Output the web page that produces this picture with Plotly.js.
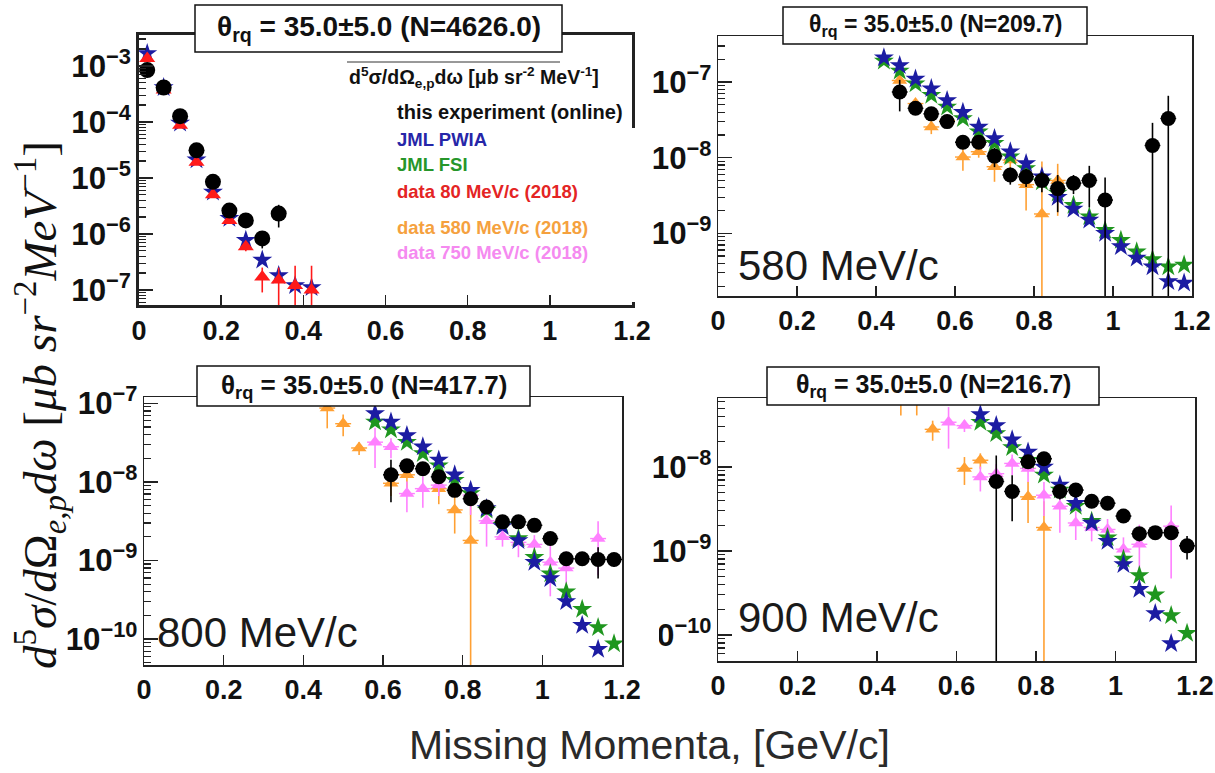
<!DOCTYPE html>
<html>
<head>
<meta charset="utf-8">
<script src="https://cdn.plot.ly/plotly-3.0.1.min.js"></script>
<style>
  html, body { margin: 0; padding: 0; background: #ffffff; }
  #chart { width: 1215px; height: 773px; }
</style>
</head>
<body>
<div id="chart"></div>
<script>
// Missing-momentum bins [GeV/c] and cross sections [µb sr^-2 MeV^-1]

// ---- panel 1: 80 MeV/c setting
const p1_x_exp  = [0.02, 0.06, 0.10, 0.14, 0.18, 0.22, 0.26, 0.30, 0.34];
const p1_exp    = [8.4e-4, 4.1e-4, 1.26e-4, 3.1e-5, 8.5e-6, 2.6e-6, 1.74e-6, 8.3e-7, 2.3e-6];
const p1_exp_e  = [3e-5, 2e-5, 8e-6, 2e-6, 8e-7, 3e-7, 2e-7, 2.8e-7, 1.0e-6];
const p1_x_th   = [0.02, 0.06, 0.10, 0.14, 0.18, 0.22, 0.26, 0.30, 0.34, 0.38, 0.42];
const p1_pwia   = [1.66e-3, 4.1e-4, 9.5e-5, 2.1e-5, 5.6e-6, 1.9e-6, 7.7e-7, 3.4e-7, 1.8e-7, 1.2e-7, 1.1e-7];
const p1_x_d80  = [0.02, 0.06, 0.10, 0.14, 0.18, 0.22, 0.26, 0.30, 0.34, 0.38, 0.42];
const p1_d80    = [1.35e-3, 3.7e-4, 8.7e-5, 1.9e-5, 5.0e-6, 1.74e-6, 5.9e-7, 1.7e-7, 1.5e-7, 1.2e-7, 1.0e-7];
const p1_d80_e  = [5e-5, 2e-5, 5e-6, 1.5e-6, 5e-7, 2e-7, 1e-7, 8e-8, 1.0e-7, 1.5e-7, 1.7e-7];

// ---- panel 2: 580 MeV/c setting
const p2_x_th   = [0.42, 0.46, 0.50, 0.54, 0.58, 0.62, 0.66, 0.70, 0.74, 0.78, 0.82, 0.86, 0.90, 0.94, 0.98, 1.02, 1.06, 1.10, 1.14, 1.18];
const p2_pwia   = [2.1e-7, 1.66e-7, 1.1e-7, 8.2e-8, 5.7e-8, 4.0e-8, 2.55e-8, 1.8e-8, 1.2e-8, 8.4e-9, 5.6e-9, 3.0e-9, 2.1e-9, 1.5e-9, 1.0e-9, 6.7e-10, 4.7e-10, 3.6e-10, 2.3e-10, 2.2e-10];
const p2_fsi    = [1.9e-7, 1.4e-7, 9.5e-8, 6.7e-8, 4.7e-8, 3.3e-8, 2.2e-8, 1.55e-8, 1.03e-8, 7.2e-9, 4.8e-9, 3.4e-9, 2.35e-9, 1.66e-9, 1.1e-9, 8.1e-10, 5.7e-10, 4.5e-10, 3.6e-10, 3.8e-10];
const p2_x_exp  = [0.46, 0.50, 0.54, 0.58, 0.62, 0.66, 0.70, 0.74, 0.78, 0.82, 0.86, 0.90, 0.94, 0.98, 1.10, 1.14];
const p2_exp    = [7.4e-8, 4.5e-8, 3.8e-8, 3.0e-8, 1.6e-8, 1.6e-8, 1.05e-8, 5.9e-9, 5.6e-9, 5.0e-9, 3.9e-9, 4.6e-9, 5.0e-9, 2.75e-9, 1.45e-8, 3.3e-8];
const p2_exp_e  = [3.3e-8, 5e-9, 5e-9, 4e-9, 3e-9, 3e-9, 3e-9, 1.5e-9, 1.5e-9, 1.5e-9, 2e-9, 1.3e-9, 2.8e-9, 2.7e-9, 1.44e-8, 3.29e-8];
const p2_x_d580 = [0.46, 0.50, 0.54, 0.58, 0.62, 0.66, 0.70, 0.74, 0.78, 0.82, 0.86];
const p2_d580   = [1.05e-7, 5.2e-8, 2.55e-8, 3.1e-8, 1.02e-8, 1.2e-8, 7.6e-9, 9.3e-9, 4.4e-9, 1.8e-9, 5.0e-9];
const p2_d580_e = [2e-8, 8e-9, 5e-9, 5e-9, 3.5e-9, 2e-9, 2.8e-9, 2e-9, 2.4e-9, 7.1e-9, 3.3e-9];

// ---- panel 3: 800 MeV/c setting
const p3_x_pwia = [0.58, 0.62, 0.66, 0.70, 0.74, 0.78, 0.82, 0.86, 0.90, 0.94, 0.98, 1.02, 1.06, 1.10, 1.14];
const p3_pwia   = [7.4e-8, 5.8e-8, 3.9e-8, 2.8e-8, 1.9e-8, 1.23e-8, 7.8e-9, 4.6e-9, 2.7e-9, 1.8e-9, 9.5e-10, 5.9e-10, 3.0e-10, 1.5e-10, 7.4e-11];
const p3_x_fsi  = [0.58, 0.62, 0.66, 0.70, 0.74, 0.78, 0.82, 0.86, 0.90, 0.94, 0.98, 1.02, 1.06, 1.10, 1.14, 1.18];
const p3_fsi    = [5.8e-8, 4.6e-8, 3.2e-8, 2.3e-8, 1.6e-8, 1.05e-8, 7.1e-9, 4.4e-9, 2.8e-9, 1.9e-9, 1.1e-9, 6.8e-10, 4.0e-10, 2.4e-10, 1.4e-10, 8.7e-11];
const p3_x_exp  = [0.62, 0.66, 0.70, 0.74, 0.78, 0.82, 0.86, 0.90, 0.94, 0.98, 1.02, 1.06, 1.10, 1.14, 1.18];
const p3_exp    = [1.23e-8, 1.6e-8, 1.47e-8, 1.16e-8, 7.8e-9, 6.1e-9, 4.8e-9, 3.1e-9, 3.1e-9, 2.8e-9, 1.9e-9, 1.05e-9, 1.05e-9, 1.03e-9, 1.03e-9];
const p3_exp_e  = [6.8e-9, 2e-9, 2e-9, 1.5e-9, 1e-9, 1e-9, 8e-10, 4e-10, 4e-10, 4e-10, 3e-10, 2e-10, 2e-10, 4.4e-10, 2e-10];
const p3_x_d580 = [0.46, 0.50, 0.54, 0.62, 0.66, 0.74, 0.78, 0.82];
const p3_d580   = [8.7e-8, 5.5e-8, 2.7e-8, 9.6e-9, 1.23e-8, 8.2e-9, 4.4e-9, 1.8e-9];
const p3_d580_e = [3.9e-8, 1.7e-8, 5e-9, 3e-9, 4e-9, 3e-9, 2.2e-9, 5.3e-9];
const p3_x_d750 = [0.58, 0.62, 0.66, 0.70, 0.74, 0.82, 0.86, 0.90, 0.94, 0.98, 1.02, 1.06, 1.14];
const p3_d750   = [3.2e-8, 2.8e-8, 7.1e-9, 8.2e-9, 9.1e-9, 6.8e-9, 3.2e-9, 2.0e-9, 1.7e-9, 1.6e-9, 9.5e-10, 8e-10, 1.9e-9];
const p3_d750_e = [1.7e-8, 8e-9, 3e-9, 3.5e-9, 2.5e-9, 3e-9, 1.7e-9, 5e-10, 6e-10, 5e-10, 6e-10, 5e-10, 1.25e-9];

// ---- panel 4: 900 MeV/c setting
const p4_x_pwia = [0.66, 0.70, 0.74, 0.78, 0.82, 0.86, 0.90, 0.94, 0.98, 1.02, 1.06, 1.10, 1.14];
const p4_pwia   = [4.2e-8, 3.1e-8, 2.1e-8, 1.5e-8, 1.0e-8, 6.1e-9, 3.7e-9, 2.15e-9, 1.3e-9, 6.9e-10, 3.5e-10, 1.8e-10, 7.9e-11];
const p4_x_fsi  = [0.66, 0.70, 0.74, 0.78, 0.82, 0.86, 0.90, 0.94, 0.98, 1.02, 1.06, 1.10, 1.14, 1.18];
const p4_fsi    = [3.4e-8, 2.5e-8, 1.7e-8, 1.2e-8, 8.0e-9, 5.3e-9, 3.4e-9, 2.25e-9, 1.44e-9, 8e-10, 5.1e-10, 3.0e-10, 1.7e-10, 1.05e-10];
const p4_x_exp  = [0.70, 0.74, 0.78, 0.82, 0.86, 0.90, 0.94, 0.98, 1.02, 1.06, 1.10, 1.14, 1.18];
const p4_exp    = [6.7e-9, 5.1e-9, 1.15e-8, 1.25e-8, 5.1e-9, 5.3e-9, 3.9e-9, 3.7e-9, 2.6e-9, 1.6e-9, 1.65e-9, 1.65e-9, 1.15e-9];
const p4_exp_e  = [7e-9, 2.85e-9, 2e-9, 2e-9, 1e-9, 1e-9, 6e-10, 5e-10, 4e-10, 3e-10, 3e-10, 3e-10, 3.6e-10];
const p4_x_d580 = [0.46, 0.50, 0.54, 0.62, 0.66, 0.78, 0.82];
const p4_d580   = [7.5e-8, 7.5e-8, 2.8e-8, 9.6e-9, 1.2e-8, 4.4e-9, 1.9e-9];
const p4_d580_e = [3.4e-8, 3.4e-8, 7.5e-9, 3.5e-9, 2.5e-9, 2.25e-9, 2e-9];
const p4_x_d750 = [0.58, 0.62, 0.66, 0.70, 0.74, 0.78, 0.82, 0.86, 0.90, 0.94, 0.98, 1.02, 1.06, 1.14];
const p4_d750   = [3.4e-8, 3.1e-8, 7.6e-9, 8.3e-9, 1.1e-8, 9.6e-9, 4.6e-9, 3.4e-9, 2.15e-9, 1.9e-9, 1.8e-9, 1.05e-9, 1.2e-9, 1.97e-9];
const p4_d750_e = [1.75e-8, 5e-9, 2.5e-9, 2.5e-9, 3e-9, 3e-9, 2e-9, 1.75e-9, 8e-10, 6e-10, 6e-10, 4e-10, 8.5e-10, 1.5e-9];

// ---- text
const panelTitles = ['4626.0', '209.7', '417.7', '216.7'];
const panelLabels = ['580 MeV/c', '800 MeV/c', '900 MeV/c'];
const legendHeader = 'd<sup>5</sup>σ/dΩ<sub>e,p</sub>dω [μb sr<sup>-2</sup> MeV<sup>-1</sup>]';
const legendEntries = ['this experiment (online)', 'JML PWIA', 'JML FSI', 'data 80 MeV/c (2018)', 'data 580 MeV/c (2018)', 'data 750 MeV/c (2018)'];

// ---- drawing
const W = 1215, H = 773;
const fx = p => p / W;
const fy = p => 1 - p / H;

const STYLE = {
  exp:  {symbol: 'circle',      color: '#000000', size: 15},
  pwia: {symbol: 'star',        color: '#1c1ca2', size: 15},
  fsi:  {symbol: 'star',        color: '#1f961f', size: 15},
  d80:  {symbol: 'triangle-up', color: '#ff1a1a', size: 14},
  d580: {symbol: 'triangle-up', color: '#ffa033', size: 13},
  d750: {symbol: 'triangle-up', color: '#ff80ff', size: 13}
};

function series(n, key, x, y, err, withXerr) {
  const s = STYLE[key];
  const t = {
    type: 'scatter', mode: 'markers', showlegend: false, hoverinfo: 'skip',
    xaxis: n === 1 ? 'x' : 'x' + n, yaxis: n === 1 ? 'y' : 'y' + n,
    x: x, y: y,
    marker: {symbol: s.symbol, color: s.color, size: n === 1 && key === 'exp' ? 16 : s.size, line: {width: 0}}
  };
  if (err) t.error_y = {type: 'data', array: err, visible: true, color: s.color, thickness: 1.6, width: 0};
  if (withXerr) t.error_x = {type: 'constant', value: 0.02, visible: true, color: s.color, thickness: 1.4, width: 0};
  return t;
}

const data = [
  series(1, 'pwia', p1_x_th, p1_pwia),
  series(1, 'd80', p1_x_d80, p1_d80, p1_d80_e),
  series(1, 'exp', p1_x_exp, p1_exp, p1_exp_e),

  series(2, 'd580', p2_x_d580, p2_d580, p2_d580_e, true),
  series(2, 'fsi', p2_x_th, p2_fsi),
  series(2, 'pwia', p2_x_th, p2_pwia),
  series(2, 'exp', p2_x_exp, p2_exp, p2_exp_e, true),

  series(3, 'd580', p3_x_d580, p3_d580, p3_d580_e, true),
  series(3, 'd750', p3_x_d750, p3_d750, p3_d750_e, true),
  series(3, 'fsi', p3_x_fsi, p3_fsi),
  series(3, 'pwia', p3_x_pwia, p3_pwia),
  series(3, 'exp', p3_x_exp, p3_exp, p3_exp_e, true),

  series(4, 'd580', p4_x_d580, p4_d580, p4_d580_e, true),
  series(4, 'd750', p4_x_d750, p4_d750, p4_d750_e, true),
  series(4, 'fsi', p4_x_fsi, p4_fsi),
  series(4, 'pwia', p4_x_pwia, p4_pwia),
  series(4, 'exp', p4_x_exp, p4_exp, p4_exp_e, true)
];

const SANS = 'Liberation Sans, Arial, sans-serif';

// minor tick positions 2..9 x 10^n across a log range
function minorVals(range) {
  const out = [];
  for (let n = Math.floor(range[0]); n <= Math.ceil(range[1]); n++) {
    for (let k = 2; k <= 9; k++) out.push(k * Math.pow(10, n));
  }
  return out;
}

function xAxis(left, right, anchor, lw) {
  return {
    domain: [fx(left), fx(right)], anchor: anchor, range: [0, 1.2], tick0: 0, dtick: 0.2,
    ticks: 'inside', ticklen: 10, tickwidth: 1.5, tickcolor: '#222222',
    showline: true, mirror: true, linecolor: '#222222', linewidth: lw,
    showgrid: false, zeroline: false, fixedrange: true,
    tickfont: {family: SANS, size: 27, weight: 'bold', color: '#111111'}
  };
}
function yAxis(top, bottom, anchor, range, lw) {
  return {
    type: 'log', domain: [fy(bottom), fy(top)], anchor: anchor, range: range, dtick: 1,
    exponentformat: 'power', ticks: 'inside', ticklen: 14, tickwidth: 1.5, tickcolor: '#222222',
    showline: true, mirror: true, linecolor: '#222222', linewidth: lw,
    showgrid: false, zeroline: false, fixedrange: true,
    tickfont: {family: SANS, size: 25, weight: 'bold', color: '#111111'}
  };
}
// companion axis carrying only the short log-decade ticks
function yMinor(base, anchor, range) {
  return {
    type: 'log', overlaying: base, anchor: anchor, side: 'left', range: range,
    tickmode: 'array', tickvals: minorVals(range), ticks: 'inside', ticklen: 7,
    tickwidth: 1.2, tickcolor: '#222222', showticklabels: false,
    showline: false, showgrid: false, zeroline: false, fixedrange: true
  };
}

const R1 = [-7.27, -2.45], R2 = [-9.83, -6.39], R3 = [-10.33, -6.92], R4 = [-10.31, -7.18];

// empty carriers so the companion axes get drawn
['x', 'x2', 'x3', 'x4'].forEach((xa, i) => {
  data.push({type: 'scatter', mode: 'markers', x: [], y: [], xaxis: xa, yaxis: 'y' + (i + 5),
             showlegend: false, hoverinfo: 'skip'});
});

// title boxes: [left, right, top, bottom] in pixels, font size
const boxes = [
  [195, 562, 5, 52, 28],
  [783, 1087, 7, 44, 23],
  [197, 530, 366, 406, 26],
  [767, 1099, 367, 405, 25]
];

const shapes = [];
const annotations = [];

boxes.forEach((b, i) => {
  shapes.push({type: 'rect', xref: 'paper', yref: 'paper', layer: 'above',
    x0: fx(b[0]), x1: fx(b[1]), y0: fy(b[3]), y1: fy(b[2]),
    fillcolor: '#ffffff', line: {color: '#111111', width: 1.5}});
  annotations.push({xref: 'paper', yref: 'paper', x: fx((b[0] + b[1]) / 2), y: fy((b[2] + b[3]) / 2),
    xanchor: 'center', yanchor: 'middle', showarrow: false,
    text: 'θ<sub>rq</sub> = 35.0±5.0 (N=' + panelTitles[i] + ')',
    font: {family: SANS, size: b[4], weight: 'bold', color: '#111111'}});
});

// gap in the right frame of the first panel next to the legend
shapes.push({type: 'rect', xref: 'paper', yref: 'paper', layer: 'above',
  x0: fx(627), x1: fx(638), y0: fy(302), y1: fy(128), fillcolor: '#ffffff', line: {width: 0}});
// hidden leading digit of the lowest label in the last panel
shapes.push({type: 'rect', xref: 'paper', yref: 'paper', layer: 'above',
  x0: fx(634), x1: fx(659), y0: fy(652), y1: fy(612), fillcolor: '#ffffff', line: {width: 0}});

// legend of the first panel
shapes.push({type: 'line', xref: 'paper', yref: 'paper', layer: 'above',
  x0: fx(347), x1: fx(560), y0: fy(62), y1: fy(62), line: {color: '#333333', width: 1}});
annotations.push({xref: 'paper', yref: 'paper', x: fx(347), y: fy(77), xanchor: 'left', yanchor: 'middle',
  showarrow: false, text: legendHeader,
  font: {family: SANS, size: 19.5, weight: 'bold', color: '#111111'}});
const legendColors = ['#111111', '#2626a8', '#26962a', '#e42424', '#f5a13e', '#f58af0'];
const legendY = [112, 140, 165, 192, 227, 253];
legendEntries.forEach((t, i) => {
  annotations.push({xref: 'paper', yref: 'paper', x: fx(395), y: fy(legendY[i]), xanchor: 'left', yanchor: 'middle',
    showarrow: false, text: t,
    font: {family: SANS, size: i === 0 ? 20 : 18.5, weight: 'bold', color: legendColors[i]}});
});

// momentum-setting labels
const labelPos = [[736, 265], [155, 632], [736, 617]];
panelLabels.forEach((t, i) => {
  annotations.push({xref: 'paper', yref: 'paper', x: fx(labelPos[i][0]), y: fy(labelPos[i][1]),
    xanchor: 'left', yanchor: 'middle', showarrow: false, text: t,
    font: {family: SANS, size: 42, color: '#1a1a1a'}});
});

// common axis titles
annotations.push({xref: 'paper', yref: 'paper', x: fx(649), y: fy(745), xanchor: 'center', yanchor: 'middle',
  showarrow: false, text: 'Missing Momenta, [GeV/c]',
  font: {family: SANS, size: 41, color: '#2a2a2a'}});
annotations.push({xref: 'paper', yref: 'paper', x: fx(40), y: fy(405), xanchor: 'center', yanchor: 'middle',
  showarrow: false, textangle: -90,
  text: '<i>d</i><sup>5</sup><i>σ</i>/<i>d</i>Ω<sub><i>e,p</i></sub><i>dω</i> [<i>μb sr</i><sup>−2</sup><i>MeV</i><sup>−1</sup>]',
  font: {family: 'Liberation Serif, Times New Roman, serif', size: 47, color: '#111111'}});

const layout = {
  width: W, height: H, autosize: false,
  margin: {l: 0, r: 0, t: 0, b: 0},
  paper_bgcolor: '#ffffff', plot_bgcolor: 'rgba(0,0,0,0)',
  showlegend: false,
  xaxis:  xAxis(139, 632, 'y', 3),
  yaxis:  yAxis(35, 305, 'x', R1, 3),
  xaxis2: xAxis(718, 1192, 'y2', 1.5),
  yaxis2: yAxis(36, 296, 'x2', R2, 1.5),
  xaxis3: xAxis(144, 622, 'y3', 1.5),
  yaxis3: yAxis(397, 665, 'x3', R3, 1.5),
  xaxis4: xAxis(718, 1195, 'y4', 1.5),
  yaxis4: yAxis(398, 661, 'x4', R4, 1.5),
  yaxis5: yMinor('y', 'x', R1),
  yaxis6: yMinor('y2', 'x2', R2),
  yaxis7: yMinor('y3', 'x3', R3),
  yaxis8: yMinor('y4', 'x4', R4),
  shapes: shapes,
  annotations: annotations
};

Plotly.newPlot('chart', data, layout, {displayModeBar: false, staticPlot: true});
</script>
</body>
</html>
